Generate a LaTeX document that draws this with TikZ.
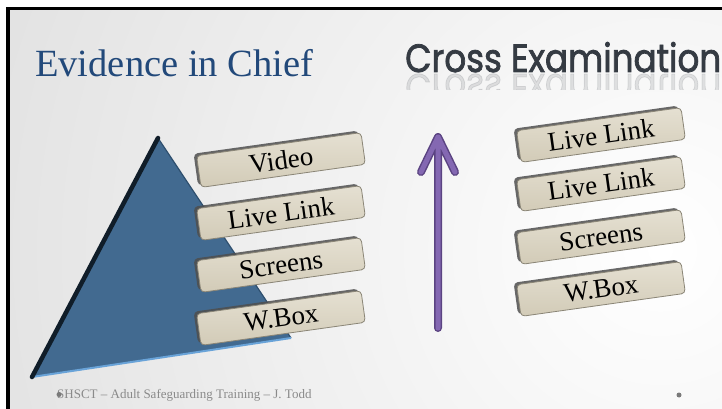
\documentclass[tikz,border=0pt]{standalone}
\usepackage{fontspec}
\setmainfont{Liberation Serif}
\newfontfamily\crossfont{Poppins}[FakeBold=2]
\usetikzlibrary{shadows}
\definecolor{bggray}{HTML}{D2D2D2}
\definecolor{titleblue}{HTML}{22497A}
\definecolor{crossgray}{HTML}{353B43}
\definecolor{triblue}{HTML}{426A90}
\definecolor{tridark}{HTML}{101D29}
\definecolor{triedge}{HTML}{2E4F6E}
\definecolor{trilight}{HTML}{69A3D8}
\definecolor{slabtop}{HTML}{E5E0D2}
\definecolor{slabbot}{HTML}{D2CBB7}
\definecolor{slabline}{HTML}{8A8576}
\definecolor{slabshadow}{HTML}{4E4E4E}
\definecolor{arrowout}{HTML}{5B4482}
\definecolor{arrowin}{HTML}{8468B2}
\definecolor{footgray}{HTML}{8A8A8A}
\definecolor{dotgray}{HTML}{7A7A7A}
\begin{document}
\begin{tikzpicture}[x=1pt,y=1pt,
  slab/.style={draw=slabline, line width=0.8pt, rounded corners=4pt,
    minimum width=166pt, minimum height=32pt, inner sep=0pt, rotate=8,
    top color=slabtop, bottom color=slabbot,
    drop shadow={shadow xshift=-3pt, shadow yshift=2pt, fill=slabshadow, opacity=0.85},
    font=\fontsize{27}{27}\selectfont, text=black},
  dotmark/.style={circle, fill=dotgray, minimum size=5pt, inner sep=0pt}]
\useasboundingbox (0,0) rectangle (722,-409);
\fill[white] (0,0) rectangle (722,-409);
\begin{scope}
  \clip (8,-8) rectangle (722,-409);
  \shade[inner color=white, outer color=bggray] (660,-250) circle (1100);
\end{scope}
\draw[black, line width=3.5pt] (8,-409) -- (8,-8.5) -- (722,-8.5);

% titles
\node[anchor=base west, inner sep=0pt, text=titleblue, font=\fontsize{38.5}{38.5}\selectfont] (evid) at (35,-77) {Evidence in Chief};
\node[anchor=base west, inner sep=0pt, text=crossgray] (cross) at (405,-72) {\crossfont\resizebox{316pt}{30pt}{Cross Examination}};
\begin{scope}
  \clip (400,-74) rectangle (722,-90);
  \node[anchor=base west, inner sep=0pt, yscale=-1, transform shape, text=crossgray, opacity=0.13] (crossrefl) at (405,-74) {\crossfont\resizebox{316pt}{30pt}{Cross Examination}};
\end{scope}

% triangle
\coordinate (apex) at (158,-138);
\coordinate (bl) at (32,-377);
\coordinate (br) at (291,-338);
\fill[triblue] (apex) -- (bl) -- (br) -- cycle;
\draw[triedge, line width=1.2pt] (apex) -- (br);
\draw[trilight, line width=2pt] (bl) -- (br);
\draw[tridark, line width=4.5pt, line cap=round] (apex) -- (bl);

% left slabs
\node[slab] (lvideo) at (281,-160) {Video};
\node[slab] (llive) at (281,-213) {Live Link};
\node[slab] (lscreens) at (281,-265) {Screens};
\node[slab] (lwbox) at (281,-318) {W.Box};

% right slabs
\node[slab] (rlive1) at (601,-135) {Live Link};
\node[slab] (rlive2) at (601,-184) {Live Link};
\node[slab] (rscreens) at (601,-237) {Screens};
\node[slab] (rwbox) at (601,-289) {W.Box};

% arrow
\coordinate (atail) at (438,-328);
\coordinate (atip) at (438,-137);
\coordinate (aleft) at (421,-172);
\coordinate (aright) at (455,-172);
\draw[arrowout, line width=8pt, line cap=round, line join=round] (atail) -- (atip) (aleft) -- (atip) -- (aright);
\draw[arrowin, line width=5pt, line cap=round, line join=round] (atail) -- (atip) (aleft) -- (atip) -- (aright);

% footer
\node[anchor=base west, inner sep=0pt, text=footgray, font=\fontsize{13}{13}\selectfont] (foot) at (57,-398) {SHSCT – Adult Safeguarding Training – J. Todd};
\node[dotmark] (dotl) at (59,-394.5) {};
\node[dotmark] (dotr) at (679,-395) {};
\end{tikzpicture}
\end{document}
